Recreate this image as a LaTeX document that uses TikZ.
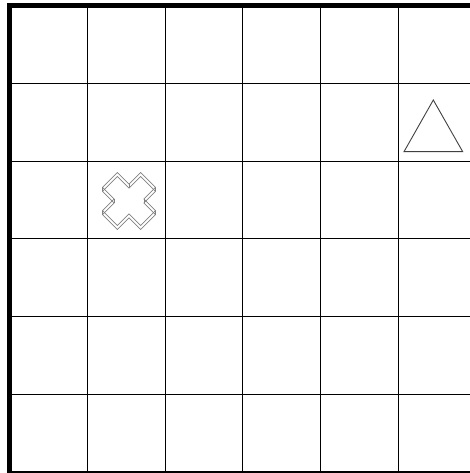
\documentclass[tikz,border=0pt]{standalone}
\begin{document}
\begin{tikzpicture}[x=1pt,y=-1pt,
  gridline/.style={line width=1pt,black},
  borderline/.style={line width=5pt,black},
  crossline/.style={draw=black!50,line width=0.7pt,line join=miter},
  triline/.style={draw=black!75,line width=0.9pt,line join=miter}]
\useasboundingbox (0,0) rectangle (470,473);
\clip (0,0) rectangle (470,473);
\foreach \i in {1,...,5} {
  \draw[gridline] (9.5+77.8*\i,5.5) -- (9.5+77.8*\i,480);
  \draw[gridline] (9.5,5.5+77.8*\i) -- (480,5.5+77.8*\i);
}
\draw[borderline] (480,5.5) -- (9.5,5.5) -- (9.5,480);
\draw[borderline] (9.5,473.5) -- (480,473.5);
% triangle
\draw[triline] (433.3,100) -- (462.7,151.7) -- (404,151.7) -- cycle;
% cross (two outlines, extruded)
\foreach \cy in {199,203} {
  \draw[crossline] (129+0,\cy-14.85) -- (129+11.67,\cy-26.5) -- (129+26.5,\cy-11.67)
    -- (129+14.85,\cy) -- (129+26.5,\cy+11.67) -- (129+11.67,\cy+26.5)
    -- (129,\cy+14.85) -- (129-11.67,\cy+26.5) -- (129-26.5,\cy+11.67)
    -- (129-14.85,\cy) -- (129-26.5,\cy-11.67) -- (129-11.67,\cy-26.5) -- cycle;
}
\foreach \dx/\dy in {-26.5/-11.67,-26.5/11.67,26.5/-11.67,26.5/11.67,-14.85/0,14.85/0,0/-14.85} {
  \draw[crossline] (129+\dx,199+\dy) -- (129+\dx,203+\dy);
}
\end{tikzpicture}
\end{document}
